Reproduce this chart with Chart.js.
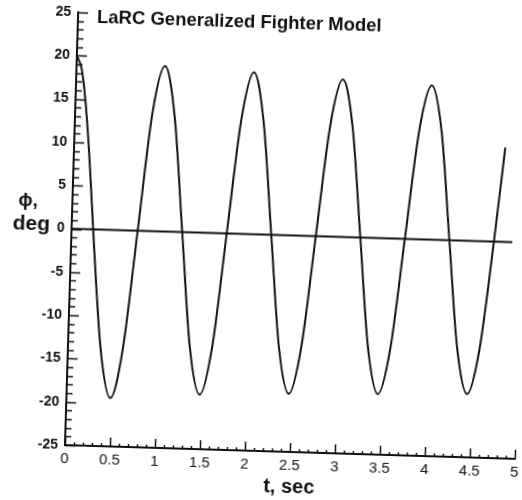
<!DOCTYPE html>
<html lang="en">
<head>
    <meta charset="UTF-8">
    <title>LaRC Generalized Fighter Model - roll angle</title>
    <script src="https://cdn.jsdelivr.net/npm/chart.js"></script>
    <style>
        html, body {
            margin: 0;
            padding: 0;
            background: #fff;
        }
        .wrap {
            position: relative;
            width: 522px;
            height: 500px;
            overflow: hidden;
            background: #fff;
        }
        /* the original is a slightly crooked scan, so tilt the plot a bit */
        #rollChart {
            position: absolute;
            left: 0;
            top: 0;
            transform-origin: 261px 250px;
            transform: rotate(1.75deg);
        }
    </style>
</head>
<body>
    <div class="wrap">
        <canvas id="rollChart" width="540" height="500"></canvas>
    </div>

    <script>
        // time history
        const timeSec = [0, 0.06, 0.12, 0.18, 0.24, 0.364, 0.488, 0.611, 0.735, 0.859, 0.983, 1.106,
                         1.23, 1.354, 1.478, 1.601, 1.725, 1.849, 1.973, 2.096, 2.22, 2.344,
                         2.468, 2.591, 2.715, 2.839, 2.963, 3.086, 3.21, 3.334, 3.458, 3.581,
                         3.705, 3.829, 3.953, 4.076, 4.2, 4.324, 4.448, 4.571, 4.695, 4.79];
        const phiDeg = [20, 18.4, 14.0, 7.6, 0, -13.8, -19.4, -13.6, 0, 13.6, 19.1, 13.4,
                        0, -13.3, -18.7, -13.2, 0, 13.2, 18.7, 13.1, 0, -13.0,
                        -18.3, -12.9, 0, 12.9, 18.2, 12.8, 0, -12.8, -18.0, -12.7,
                        0, 12.6, 17.8, 12.6, 0, -12.5, -17.7, -12.5, 0, 10.9];

        // reference (zero) line
        const zeroT = [0, 4.9];
        const zeroPhi = [0, 0];

        // axis ticks
        const xTickValues = [0, 0.5, 1, 1.5, 2, 2.5, 3, 3.5, 4, 4.5, 5];
        const xTickLabels = ['0', '0.5', '1', '1.5', '2', '2.5', '3', '3.5', '4', '4.5', '5'];
        const yTickValues = [-25, -20, -15, -10, -5, 0, 5, 10, 15, 20, 25];
        const yTickLabels = ['-25', '-20', '-15', '-10', '-5', '0', '5', '10', '15', '20', '25'];

        const ink = '#111';
        const fontFamily = '"Liberation Sans", Arial, Helvetica, sans-serif';

        // inward tick marks + the labels that sit inside / beside the plot
        const plotDecor = {
            id: 'plotDecor',
            afterDraw(chart) {
                const {ctx, chartArea: a, scales: {x, y}} = chart;
                ctx.save();
                ctx.strokeStyle = ink;
                ctx.lineWidth = 1.5;
                ctx.beginPath();
                for (let i = -25; i <= 25; i++) {
                    const py = Math.round(y.getPixelForValue(i)) + 0.5;
                    const len = i % 5 === 0 ? 10 : 6;
                    ctx.moveTo(a.left, py);
                    ctx.lineTo(a.left + len, py);
                }
                for (let i = 0; i <= 50; i++) {
                    const px = Math.round(x.getPixelForValue(i / 10)) + 0.5;
                    const len = i % 5 === 0 ? 9 : 3;
                    ctx.moveTo(px, a.bottom);
                    ctx.lineTo(px, a.bottom - len);
                }
                ctx.stroke();

                ctx.fillStyle = ink;
                ctx.textAlign = 'left';
                ctx.textBaseline = 'alphabetic';
                ctx.font = 'bold 18.5px ' + fontFamily;
                ctx.fillText('LaRC Generalized Fighter Model', 90, 28);

                ctx.font = 'bold 19px ' + fontFamily;
                ctx.fillText('ϕ,', 17, 213);
                ctx.font = 'bold 21px ' + fontFamily;
                ctx.fillText('deg', 12, 237);
                ctx.restore();
            }
        };

        const ctx = document.getElementById('rollChart').getContext('2d');

        const rollChart = new Chart(ctx, {
            type: 'line',
            data: {
                datasets: [{
                    label: 'phi',
                    data: timeSec.map((t, i) => ({x: t, y: phiDeg[i]})),
                    borderColor: ink,
                    borderWidth: 2,
                    pointRadius: 0,
                    cubicInterpolationMode: 'monotone',
                    fill: false
                }, {
                    label: 'zero',
                    data: zeroT.map((t, i) => ({x: t, y: zeroPhi[i]})),
                    borderColor: ink,
                    borderWidth: 2,
                    pointRadius: 0,
                    fill: false
                }]
            },
            options: {
                responsive: false,
                animation: false,
                devicePixelRatio: 1,
                layout: {
                    padding: {top: 18, right: 19, bottom: 0, left: 0}
                },
                plugins: {
                    legend: {display: false},
                    tooltip: {enabled: false}
                },
                scales: {
                    x: {
                        type: 'linear',
                        min: 0,
                        max: 5,
                        grid: {display: false, drawTicks: false},
                        border: {display: true, color: ink, width: 2},
                        afterBuildTicks: (scale) => {
                            scale.ticks = xTickValues.map(v => ({value: v}));
                        },
                        afterFit: (scale) => {
                            scale.height = 49;
                        },
                        ticks: {
                            color: ink,
                            font: {family: fontFamily, size: 15},
                            padding: 5,
                            maxRotation: 0,
                            autoSkip: false,
                            callback: (v) => xTickLabels[xTickValues.indexOf(v)]
                        },
                        title: {
                            display: true,
                            text: 't, sec',
                            color: ink,
                            font: {family: fontFamily, size: 20, weight: 'bold'},
                            padding: {top: 0, bottom: 2}
                        }
                    },
                    y: {
                        type: 'linear',
                        min: -25,
                        max: 25,
                        grid: {display: false, drawTicks: false},
                        border: {display: true, color: ink, width: 2},
                        afterBuildTicks: (scale) => {
                            scale.ticks = yTickValues.map(v => ({value: v}));
                        },
                        afterFit: (scale) => {
                            scale.width = 71;
                        },
                        ticks: {
                            color: ink,
                            font: {family: fontFamily, size: 14, weight: 'bold'},
                            padding: 7,
                            autoSkip: false,
                            callback: (v) => yTickLabels[yTickValues.indexOf(v)]
                        }
                    }
                }
            },
            plugins: [plotDecor]
        });
    </script>
</body>
</html>
